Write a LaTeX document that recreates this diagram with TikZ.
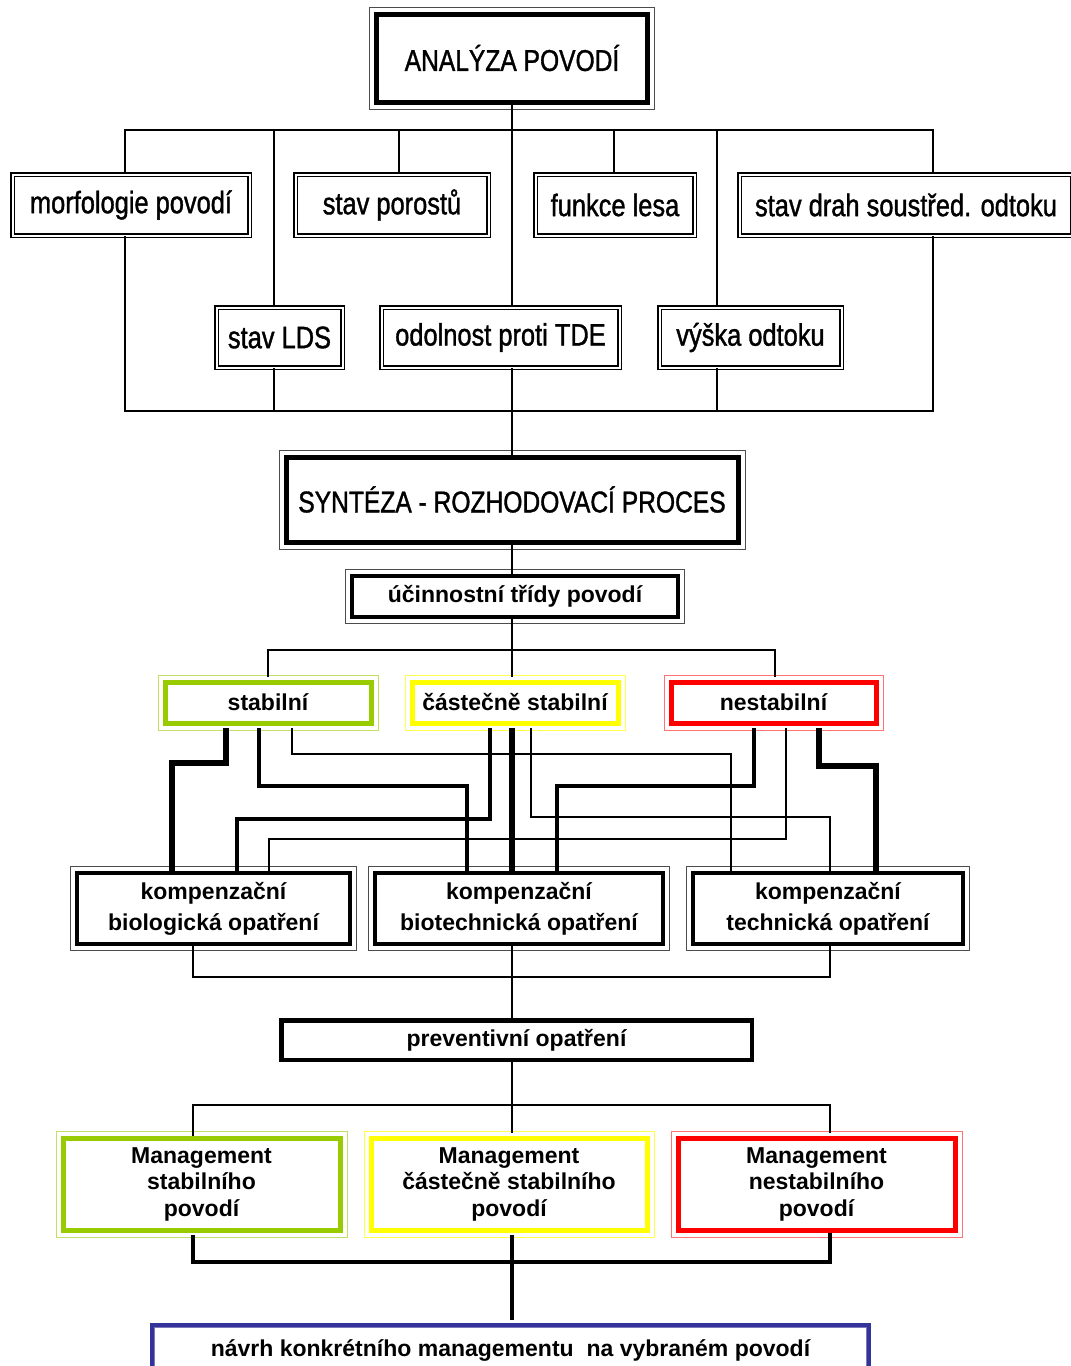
\documentclass[tikz,border=0pt]{standalone}
\usepackage{fontspec}
\setmainfont{Liberation Sans}
\newfontfamily\narrowfont{Liberation Sans}[FakeStretch=0.82, FakeBold=1.2]
\definecolor{stabgreen}{RGB}{153,204,0}
\definecolor{castyellow}{RGB}{255,255,0}
\definecolor{nestred}{RGB}{255,0,0}
\definecolor{navrhblue}{RGB}{51,51,153}

\begin{document}
\begin{tikzpicture}[x=1pt, y=-1pt,
  topbox/.style={draw, line width=1.4pt, double, double distance=2pt, inner sep=0pt,
    font=\narrowfont\fontsize{31}{36}\selectfont},
  headbox/.style={draw, line width=5pt, inner sep=0pt,
    font=\narrowfont\fontsize{30}{36}\selectfont},
  blackbox/.style={draw, line width=4.5pt, inner sep=0pt, align=center,
    font=\bfseries\fontsize{23}{31}\selectfont},
  colbox/.style={draw=#1, line width=5pt, inner sep=0pt, align=center,
    font=\bfseries\fontsize{23}{26.5}\selectfont},
  conn/.style={line width=2pt},
  conntwo/.style={line width=2.5pt},
  connthree/.style={line width=3.5pt},
  vthick/.style={line width=6pt},
  mthick/.style={line width=3.5pt},
  thinline/.style={line width=1.5pt},
  tocol/.style={shorten >=2.5pt},
  fromcol/.style={shorten <=2.5pt}]

\fill[white] (0,0) rectangle (1071,1366);
\useasboundingbox (0,0) rectangle (1071,1366);

% Analysis
\node[headbox, minimum width=271pt, minimum height=88pt] (analyza) at (512,58) {ANALÝZA POVODÍ};

\node[topbox, minimum width=237pt, minimum height=61pt] (morf) at (131,205) {morfologie povodí};
\node[topbox, minimum width=193pt, minimum height=61pt] (porost) at (392,205) {stav porostů};
\node[topbox, minimum width=159pt, minimum height=61pt] (funkce) at (615,205) {funkce lesa};
\node[topbox, minimum width=333pt, minimum height=61pt] (drah) at (906,205) {stav drah soustřed. odtoku};

\node[topbox, minimum width=126pt, minimum height=60pt] (lds) at (279.5,337.5) {stav LDS};
\node[topbox, minimum width=238pt, minimum height=60pt] (odol) at (500.5,337.5) {odolnost proti TDE};
\node[topbox, minimum width=182pt, minimum height=60pt] (vyska) at (750.5,337.5) {výška odtoku};

% Synthesis
\node[headbox, minimum width=452pt, minimum height=85pt] (synteza) at (512,499.5) {SYNTÉZA - ROZHODOVACÍ PROCES};
\node[blackbox, minimum width=326pt, minimum height=41pt] (ucinnost) at (515,596.5) {účinnostní třídy povodí};

\node[colbox=stabgreen, minimum width=206pt, minimum height=41pt] (stab) at (268,702.5) {stabilní};
\node[colbox=castyellow, minimum width=206pt, minimum height=41pt] (cast) at (515,702.5) {částečně stabilní};
\node[colbox=nestred, minimum width=205pt, minimum height=41pt] (nest) at (773.5,702.5) {nestabilní};

\node[blackbox, minimum width=273pt, minimum height=71pt] (biol) at (213.5,908.5) {kompenzační\\biologická opatření};
\node[blackbox, minimum width=288pt, minimum height=71pt] (biotech) at (519,908.5) {kompenzační\\biotechnická opatření};
\node[blackbox, minimum width=270pt, minimum height=71pt] (tech) at (828,908.5) {kompenzační\\technická opatření};

\node[blackbox, minimum width=470.5pt, minimum height=39.5pt] (prevent) at (516.5,1040) {preventivní opatření};

\node[colbox=stabgreen, minimum width=277pt, minimum height=92pt] (mstab) at (201.5,1184) {Management\\stabilního\\povodí};
\node[colbox=castyellow, minimum width=276pt, minimum height=92pt] (mcast) at (509,1184) {Management\\částečně stabilního\\povodí};
\node[colbox=nestred, minimum width=277pt, minimum height=92pt] (mnest) at (816.5,1184) {Management\\nestabilního\\povodí};

\node[colbox=navrhblue, line width=4.5pt, minimum width=717pt, minimum height=50pt] (navrh) at (510.5,1350) {návrh konkrétního managementu\ \ na vybraném povodí};

% Outer frames
\foreach \n/\c in {analyza/black!70, synteza/black!70, ucinnost/black!70, biol/black!70, biotech/black!70, tech/black!70,
    stab/stabgreen!60, cast/castyellow!70, nest/nestred!55, mstab/stabgreen!60, mcast/castyellow!70, mnest/nestred!55}
  \draw[draw=\c, line width=1pt] ([shift={(-4.5pt,4.5pt)}]\n.north west) rectangle ([shift={(4.5pt,-4.5pt)}]\n.south east);
\draw[draw=navrhblue!65, line width=1pt] ([shift={(4.5pt,-4.5pt)}]navrh.north west) rectangle ([shift={(-4.5pt,4.5pt)}]navrh.south east);

% Top connectors
\draw[conn] (analyza.south) -- (512,130);
\draw[conn] (morf.north -| 125,0) |- (933,130) -- (drah.north -| 933,0);
\foreach \x/\n in {274/lds, 399/porost, 512/odol, 614/funkce, 717/vyska}
  \draw[conn] (\x,130) -- (\n.north -| \x,0);
\draw[conn] (morf.south -| 125,0) |- (933,411) -- (drah.south -| 933,0);
\foreach \x/\n in {274/lds, 512/odol, 717/vyska}
  \draw[conn] (\n.south -| \x,0) -- (\x,411);
\draw[conn] (512,411) -- (synteza.north);

% Classes
\draw[conn] (synteza.south) -- (synteza.south |- ucinnost.north);
\draw[conn] (ucinnost.south -| 512,0) -- (512,650);
\draw[conn, fromcol, tocol] (stab.north -| 268,0) |- (775,650) -- (nest.north -| 775,0);
\draw[conn, tocol] (512,650) -- (cast.north -| 512,0);

% Cross links
\draw[vthick, fromcol] (stab.south -| 226,0) |- (172,763) -- (biol.north -| 172,0);
\draw[mthick, fromcol] (stab.south -| 259,0) |- (467,786) -- (biotech.north -| 467,0);
\draw[thinline, fromcol] (stab.south -| 292,0) |- (731,754) -- (tech.north -| 731,0);
\draw[mthick, fromcol] (cast.south -| 490,0) |- (237,819) -- (biol.north -| 237,0);
\draw[vthick, fromcol] (cast.south -| 512,0) -- (biotech.north -| 512,0);
\draw[thinline, fromcol] (cast.south -| 531,0) |- (830,817) -- (tech.north -| 830,0);
\draw[mthick, fromcol] (nest.south -| 754,0) |- (557,786) -- (biotech.north -| 557,0);
\draw[thinline, fromcol] (nest.south -| 786,0) |- (269,839) -- (biol.north -| 269,0);
\draw[vthick, fromcol] (nest.south -| 819,0) |- (876,766) -- (tech.north -| 876,0);

% Measures
\draw[conn] (biol.south -| 193,0) |- (830,977) -- (tech.south -| 830,0);
\draw[conn] (biotech.south -| 512,0) -- (prevent.north -| 512,0);
\draw[conntwo] (prevent.south -| 512,0) -- (512,1105);
\draw[conntwo, tocol] (mstab.north -| 193,0) |- (830,1105) -- (mnest.north -| 830,0);
\draw[conntwo, tocol] (512,1105) -- (mcast.north -| 512,0);

% Management
\draw[connthree, fromcol] (mstab.south -| 193,0) |- (830,1262) -- (mnest.south -| 830,0);
\draw[connthree, fromcol] (mcast.south -| 512,0) -- (512,1262);
\draw[connthree, tocol] (512,1262) -- (navrh.north -| 512,0);

\end{tikzpicture}
\end{document}
